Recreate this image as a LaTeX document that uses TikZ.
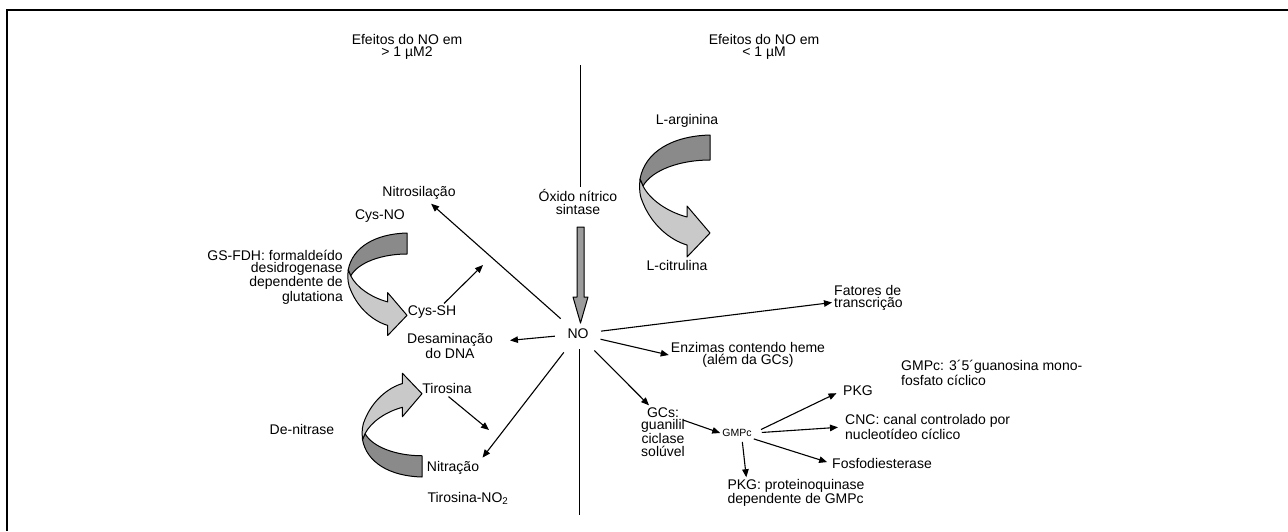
\documentclass[tikz,border=0pt]{standalone}
\usepackage{fontspec}
\setmainfont{Liberation Sans}
\usetikzlibrary{arrows.meta}
\definecolor{ribdark}{HTML}{8A8A8A}
\definecolor{riblight}{HTML}{C9C9C9}
\definecolor{shaftgray}{HTML}{9C9C9C}
\tikzset{
  txt/.style={font=\fontsize{14}{12.5}\selectfont, inner sep=2pt, align=center},
  smalltxt/.style={font=\fontsize{10.5}{11}\selectfont, inner sep=2pt},
  arr/.style={line width=1.1pt, -{Triangle[length=8pt,width=6.5pt]}},
  vline/.style={line width=1pt},
  frameline/.style={line width=2.7pt},
  ribline/.style={line width=1pt, line join=round},
}
\newcommand{\ribbonshape}{%
  \draw[ribline, fill=ribdark] (0,0) .. controls (-38,1) and (-65,17) .. (-70,44) -- (-67,51) .. controls (-58,35) and (-30,25) .. (0,25) -- cycle;
  \draw[ribline, fill=riblight] (-70,44) .. controls (-71,55) and (-70,62) .. (-67,68) .. controls (-58,90) and (-40,105) .. (-23,110) -- (-23,122) -- (0,98) -- (-23,71) -- (-23,82) .. controls (-42,77) and (-60,65) .. (-67,51) -- cycle;
}
\begin{document}
\begin{tikzpicture}[x=1pt,y=-1pt]
\useasboundingbox (0,0) rectangle (1288,531);
% frame
\draw[frameline] (7,531) -- (7,10) -- (1288,10);

% headings
\node[txt] (eff1) at (407,47) {Efeitos do NO em\\> 1 µM2};
\node[txt] (eff2) at (764,47) {Efeitos do NO em\\< 1 µM};

% centre column
\node[txt] (oxido) at (578,202) {Óxido nítrico\\sintase};
\node[txt, circle, minimum size=46pt, inner sep=0pt] (no) at (578,334) {NO};
\coordinate (vtop) at (580,65);
\draw[vline] (vtop) -- (vtop |- oxido.north);
\coordinate (vbot) at (579,349);
\coordinate (vend) at (579,515);
\draw[vline] (vbot) -- (vend);
\draw[ribline, fill=shaftgray] (577,227) -- (584,227) -- (584,297) -- (588,297) -- (580.5,323) -- (573,297) -- (577,297) -- cycle;

% L-arginina cycle
\node[txt] (larg) at (687,121) {L-arginina};
\node[txt] (lcit) at (677,265) {L-citrulina};
\begin{scope}[shift={(710,135)}]
  \ribbonshape
\end{scope}

% left side
\node[txt] (nitros) at (419,193) {Nitrosilação};
\node[txt] (cysno) at (380,216) {Cys-NO};
\node[txt, align=right, anchor=east] (gsfdh) at (345,277) {GS-FDH: formaldeído\\desidrogenase\\dependente de\\glutationa};
\begin{scope}[shift={(407,233)}, scale=0.84]
  \ribbonshape
\end{scope}
\node[txt] (cyssh) at (432,312) {Cys-SH};
\node[txt] (desam) at (450,346) {Desaminação\\do DNA};
\node[txt] (tiros) at (447,388) {Tirosina};
\node[txt] (denit) at (302,429) {De-nitrase};
\begin{scope}[shift={(422,477)}, xscale=0.85, yscale=-0.85]
  \ribbonshape
\end{scope}
\node[txt] (nitr) at (453,468) {Nitração};
\node[txt] (tirno) at (468,498) {Tirosina-NO\textsubscript{2}};
\coordinate (cysend) at (483,265);
\coordinate (tirend) at (489,430);

% right side
\node[txt, align=left, anchor=west] (fat) at (832,298) {Fatores de\\transcrição};
\node[txt] (enz) at (748,355) {Enzimas contendo heme\\(além da GCs)};
\node[txt] (gcs) at (663,432) {GCs:\\guanilil\\ciclase\\solúvel};
\node[smalltxt] (gmpc) at (737,433) {GMPc};
\node[txt] (pkg) at (858,391) {PKG};
\node[txt, align=left, anchor=west] (cnc) at (843,427) {CNC: canal controlado por\\nucleotídeo cíclico};
\node[txt] (fosfo) at (882,463) {Fosfodiesterase};
\node[txt, align=left] (pkgd) at (796,493) {PKG: proteinoquinase\\dependente de GMPc};
\node[txt, align=left, anchor=west] (gmpcdef) at (899,373) {GMPc: 3´5´guanosina mono-\\fosfato cíclico};

% connectors
\draw[arr, shorten >=3pt] (no) -- (nitros);
\draw[arr] ([xshift=12pt]cyssh.north) -- (cysend);
\draw[arr, shorten >=15pt] (no) -- (desam);
\draw[arr, shorten <=2pt] (tiros.south) -- (tirend);
\draw[arr, shorten >=2pt] (no) -- (nitr.north east);
\draw[arr] (no) -- (fat);
\draw[arr] (no) -- (enz.west);
\draw[arr] (no) -- ([xshift=10pt]gcs.north west);
\draw[arr] ([shift={(20,-12)}]gcs.center) -- (gmpc.west);
\draw[arr, shorten <=8pt, shorten >=5pt] (gmpc.east) -- (pkg.west);
\draw[arr, shorten <=8pt, shorten >=5pt] (gmpc.east) -- (cnc.west);
\draw[arr, shorten >=3pt] (gmpc.south east) -- (fosfo.west);
\draw[arr, shorten <=3pt] ([xshift=5pt]gmpc.south) -- ([xshift=21pt]pkgd.north west);
\end{tikzpicture}
\end{document}
